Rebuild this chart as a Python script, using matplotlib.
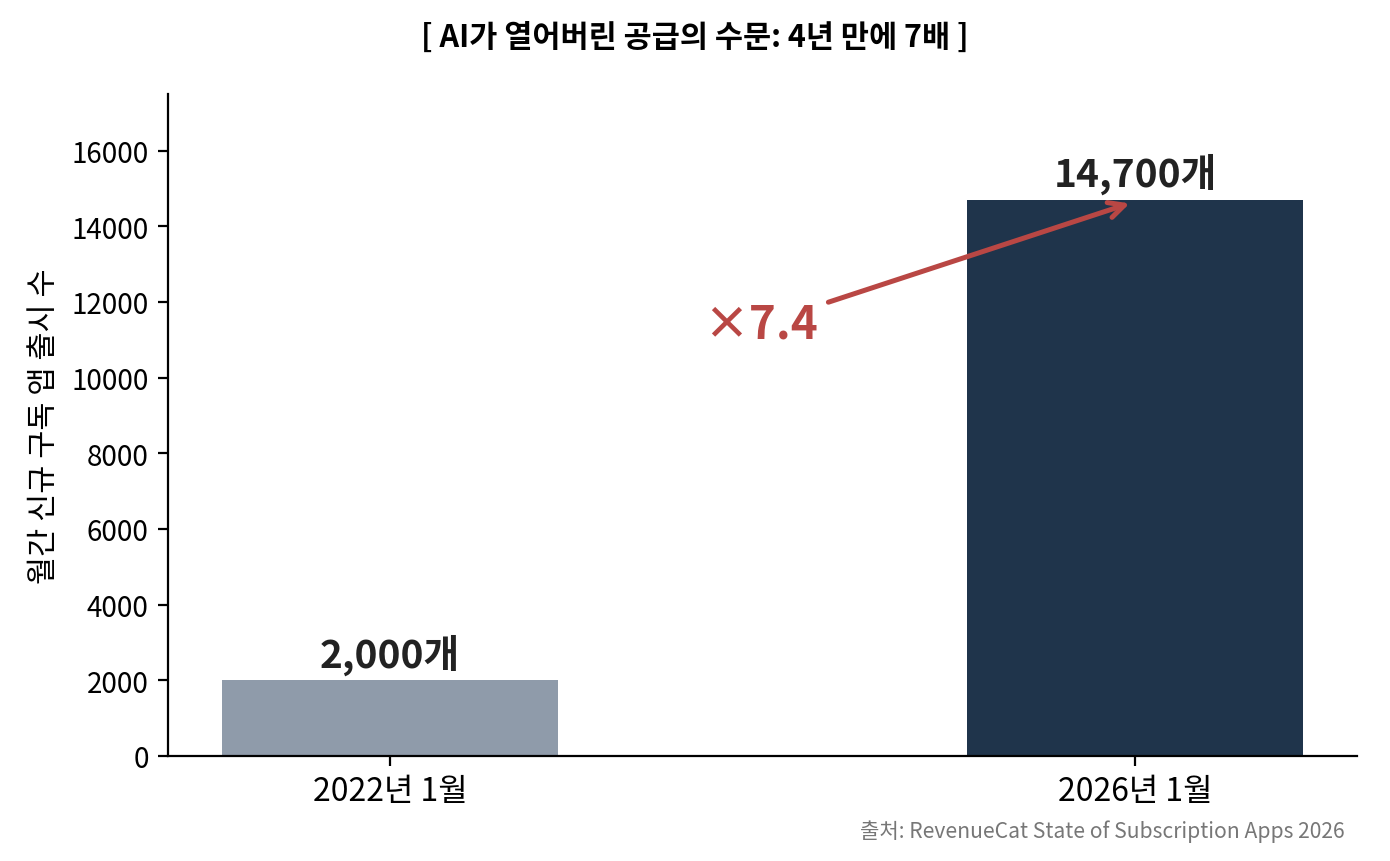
import matplotlib.pyplot as plt

plt.rcParams['font.family'] = ['Noto Sans CJK KR', 'DejaVu Sans']

periods = ['2022년 1월', '2026년 1월']
apps = [2000, 14700]
labels = ['2,000개', '14,700개']
colors = ['#8f9baa', '#1f344b']

fig, ax = plt.subplots(figsize=(6.95, 4.31), dpi=200)

x = range(len(periods))
ax.bar(x, apps, width=0.45, color=colors)

for xi, v, lab in zip(x, apps, labels):
    ax.text(xi, v + 150, lab, ha='center', va='bottom',
            fontsize=14, fontweight='bold', color='#222222')

ax.annotate('×7.4', xy=(1.0, 14650), xytext=(0.497, 11400),
            ha='center', va='center', fontsize=16.5, fontweight='bold',
            color='#b94744',
            arrowprops=dict(arrowstyle='->', color='#b94744', lw=1.8,
                            mutation_scale=14))

ax.set_xticks(list(x))
ax.set_xticklabels(periods, fontsize=11.5)
ax.tick_params(axis='y', labelsize=10)
ax.set_ylim(0, 17500)
ax.set_ylabel('월간 신규 구독 앱 출시 수', fontsize=11)
ax.spines['top'].set_visible(False)
ax.spines['right'].set_visible(False)

fig.suptitle('[ AI가 열어버린 공급의 수문: 4년 만에 7배 ]',
             fontsize=11, fontweight='bold', y=0.975)
fig.text(0.967, 0.022, '출처: RevenueCat State of Subscription Apps 2026',
         ha='right', va='bottom', fontsize=7.6, color='#777777')

fig.subplots_adjust(left=0.121, right=0.976, top=0.890, bottom=0.122)
fig.savefig('out.png', dpi=200)
